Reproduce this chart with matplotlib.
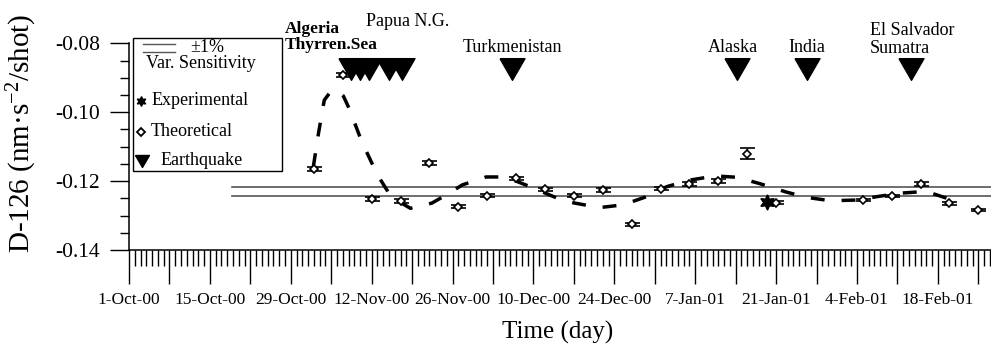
import matplotlib
matplotlib.use('Agg')
import matplotlib.pyplot as plt
from matplotlib.patches import Rectangle
from matplotlib.ticker import FixedLocator, MultipleLocator, FixedFormatter
from matplotlib.lines import Line2D

plt.rcParams['font.family'] = ['Liberation Serif', 'DejaVu Serif']
plt.rcParams['mathtext.fontset'] = 'custom'
plt.rcParams['mathtext.rm'] = 'Liberation Serif'
plt.rcParams['mathtext.it'] = 'Liberation Serif:italic'
plt.rcParams['axes.unicode_minus'] = False

# ---------------- data (x = days since 1-Oct-2000) ----------------
theo_days = [32, 37, 42, 47, 52, 57, 62, 67, 72, 77, 82, 87, 92, 97, 102, 107,
             112, 127, 132, 137, 142, 147]
theo_vals = [-0.1166, -0.0893, -0.1252, -0.1258, -0.1147, -0.1274, -0.1242,
             -0.1192, -0.1224, -0.1242, -0.1226, -0.1325, -0.1222, -0.1209,
             -0.1200, -0.1120, -0.1263, -0.1255, -0.1243, -0.1208, -0.1264,
             -0.1284]
theo_err = [0.0006, 0.0006, 0.0005, 0.0006, 0.0005, 0.0005, 0.0004, 0.0005,
            0.0004, 0.0005, 0.0005, 0.0004, 0.0005, 0.0005, 0.0005, 0.0015,
            0.0004, 0.0004, 0.0004, 0.0005, 0.0004, 0.0004]

exp_days = [110.5]
exp_vals = [-0.1260]

fit_days = [31.9, 32.8, 33.8, 35.0, 36.0, 37.1, 38.1, 40.3, 43.0, 45.4, 48.7,
            52.4, 54.4, 57.7, 61.8, 65.2, 69.7, 75.3, 81.4, 85.5, 89.6, 93.1,
            97.1, 101.5, 105.3, 109.3, 113.6, 117.2, 121.4, 126.0, 129.5,
            133.5, 138.0, 141.6, 143.9]
fit_vals = [-0.1159, -0.1061, -0.0965, -0.0938, -0.0936, -0.0953, -0.0989,
            -0.1086, -0.1182, -0.1246, -0.1279, -0.1264, -0.1245, -0.1211,
            -0.1188, -0.1188, -0.1218, -0.1258, -0.1277, -0.1269, -0.1245,
            -0.1216, -0.1197, -0.1185, -0.1189, -0.1208, -0.1231, -0.1247,
            -0.1257, -0.1255, -0.1245, -0.1235, -0.1230, -0.1250, -0.1260]

quake_days = [38.4, 40.0, 41.6, 45.0, 47.3, 66.3, 105.2, 117.3, 135.3]
quake_level = -0.0876

sens_center = -0.1230
sens_pct = 0.01
sens_start = 17.8

xtick_labels = ['1-Oct-00', '15-Oct-00', '29-Oct-00', '12-Nov-00', '26-Nov-00',
                '10-Dec-00', '24-Dec-00', '7-Jan-01', '21-Jan-01', '4-Feb-01',
                '18-Feb-01']
ytick_vals = [-0.14, -0.12, -0.10, -0.08]
ytick_labels = ['-0.14', '-0.12', '-0.10', '-0.08']

quake_names = ['Algeria\nThyrren.Sea', 'Papua N.G.', 'Turkmenistan', 'Alaska',
               'India', 'El Salvador\nSumatra']

# ---------------- figure ----------------
W, H = 991, 344
fig = plt.figure(figsize=(W / 100, H / 100), dpi=100)
ax = fig.add_axes([129 / W, 94 / H, 862 / W, 206.7 / H])
ax.set_xlim(0, 149.2)
ax.set_ylim(-0.14, -0.08)

def fp(x, y):
    return (x / W, 1 - y / H)

# +-1% sensitivity lines
xmax = ax.get_xlim()[1]
for f in (1 - sens_pct, 1 + sens_pct):
    ax.plot([sens_start, xmax], [sens_center * f] * 2, color='#555555', lw=1.2,
            zorder=2)

# dashed fit curve
ax.plot(fit_days, fit_vals, color='black', lw=2.5, ls=(0, (4.0, 4.9)),
        zorder=3)

# theoretical points
ax.errorbar(theo_days, theo_vals, yerr=theo_err, fmt='D', ms=4.3, mfc='white',
            mec='black', mew=1.2, ecolor='black', elinewidth=1, capsize=5.4,
            capthick=1.1, zorder=4)

# experimental point
star = (6, 1, 0)
ax.plot(exp_days, exp_vals, ls='none', marker=star, ms=11, color='black',
        zorder=5)

# earthquakes
tri = [(-1, 0.866), (1, 0.866), (0, -0.866), (-1, 0.866)]
ax.plot(quake_days, [quake_level] * len(quake_days), ls='none', marker=tri,
        ms=18, color='black', zorder=4, clip_on=False)

# earthquake labels
fs = 13
fig.text(*fp(285, 37), quake_names[0], fontsize=12.5, fontweight='bold',
         ha='left', va='center', linespacing=1.05)
fig.text(*fp(408, 22), quake_names[1], fontsize=fs, ha='center', va='center')
fig.text(*fp(512.7, 47), quake_names[2], fontsize=fs, ha='center', va='center')
fig.text(*fp(732.7, 47), quake_names[3], fontsize=fs, ha='center', va='center')
fig.text(*fp(806.7, 47), quake_names[4], fontsize=fs, ha='center', va='center')
fig.text(*fp(870, 39.5), quake_names[5], fontsize=fs, ha='left', va='center',
         linespacing=1.05)

# axes styling
for s in ('top', 'right'):
    ax.spines[s].set_visible(False)
for s in ('left', 'bottom'):
    ax.spines[s].set_linewidth(1.1)

major_x = list(range(0, 150, 7))
lab = []
for i, _ in enumerate(major_x):
    lab.append(xtick_labels[i // 2] if i % 2 == 0 and i // 2 < len(xtick_labels) else '')
ax.xaxis.set_major_locator(FixedLocator(major_x))
ax.xaxis.set_major_formatter(FixedFormatter(lab))
ax.xaxis.set_minor_locator(MultipleLocator(1))
ax.yaxis.set_major_locator(FixedLocator(ytick_vals))
ax.yaxis.set_major_formatter(FixedFormatter(ytick_labels))
ax.yaxis.set_minor_locator(MultipleLocator(0.005))

ax.tick_params(axis='x', which='major', length=24.5, width=1, direction='out',
               pad=6, labelsize=12.5)
ax.tick_params(axis='x', which='minor', length=11.5, width=1, direction='out')
ax.tick_params(axis='y', which='major', length=13.7, width=1, direction='out',
               pad=7, labelsize=15.5)
ax.tick_params(axis='y', which='minor', length=6.5, width=1, direction='out')

fig.text(*fp(22, 133), 'D-126 (nm\u00b7s$^{-2}$/shot)', rotation=90,
         fontsize=21, ha='center', va='center')
fig.text(*fp(558, 332), 'Time (day)', fontsize=18, ha='center', va='center')

# legend box (manual)
x0, y0, x1, y1 = 133.3, 38.3, 281.7, 170.7
fig.patches.append(Rectangle(fp(x0, y1), (x1 - x0) / W, (y1 - y0) / H,
                             transform=fig.transFigure, facecolor='white',
                             edgecolor='black', lw=1, zorder=6))
for yy in (43.5, 52):
    fig.lines.append(Line2D([143 / W, 175 / W], [1 - yy / H] * 2,
                            transform=fig.transFigure, color='#555555', lw=1,
                            zorder=7))
fig.text(*fp(190, 48), '\u00b11%', fontsize=fs, ha='left', va='center', zorder=7)
fig.text(*fp(201, 64), 'Var. Sensitivity', fontsize=fs, ha='center',
         va='center', zorder=7)
fig.lines.append(Line2D([141 / W], [1 - 101 / H], transform=fig.transFigure,
                        ls='none', marker=star, ms=7, color='black', zorder=7))
fig.text(*fp(152, 100), 'Experimental', fontsize=fs, ha='left', va='center',
         zorder=7)
fig.lines.append(Line2D([141 / W], [1 - 132 / H], transform=fig.transFigure,
                        ls='none', marker='D', ms=4, mfc='white', mec='black',
                        mew=1.3, zorder=7))
fig.text(*fp(151, 131), 'Theoretical', fontsize=fs, ha='left', va='center',
         zorder=7)
fig.lines.append(Line2D([142 / W], [1 - 161 / H], transform=fig.transFigure,
                        ls='none', marker=tri, ms=10, color='black', zorder=7))
fig.text(*fp(161, 161), 'Earthquake', fontsize=fs, ha='left', va='center',
         zorder=7)

fig.savefig('out.png', dpi=100)
